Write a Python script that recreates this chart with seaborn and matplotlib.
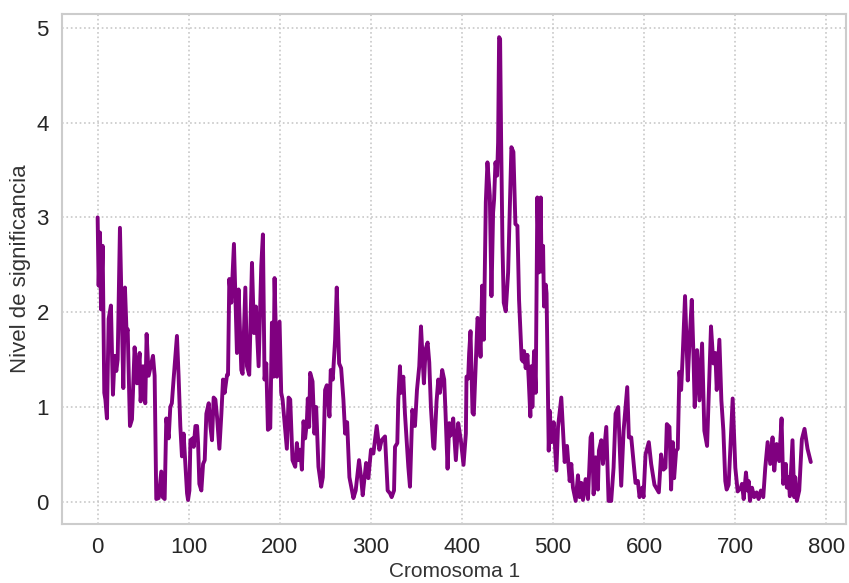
import matplotlib
matplotlib.use("Agg")
import matplotlib.pyplot as plt
import seaborn as sns
import numpy as np
import pandas as pd

# Positions along chromosome 1 and significance level
pos_a = [0, 1.1, 2.6, 3.7, 5.5, 7.3, 8.5, 10.2, 12.1, 14.6, 16.8, 18.7, 20.5, 22, 24.5, 28.2, 30, 31.8, 33, 35.5,
         37.7, 40.6, 43.2, 46.1, 47.2, 49.8, 52.3, 53.8, 56, 60.8, 62.6, 64.4, 67, 69.9, 71.5, 73.6, 75.4, 78, 79.8,
         81.5, 83.4, 87.1, 88.9, 90.8, 92.6, 94.4]
val_a = [3.0, 2.28, 2.84, 2.03, 2.7, 1.15, 1.08, 0.88, 1.93, 2.07, 1.13, 1.54, 1.38, 1.5, 2.89, 1.2, 2.26, 1.78, 1.82,
         0.8, 0.87, 1.63, 1.25, 1.57, 1.06, 1.43, 1.04, 1.77, 1.33, 1.54, 1.33, 0.03, 0.04, 0.32, 0.05, 0.03, 0.88,
         0.67, 1.0, 1.04, 1.29, 1.75, 1.33, 0.8, 0.48, 0.72]
pos_b = [98.2, 99.3, 100.8, 101.9, 104.4, 105.5, 107.4, 109.2, 110.3, 111.7, 113.9, 115.8, 117.6, 119.4, 122, 123.8,
         125.6, 127.4, 129.3, 131.1, 133.7, 135.9, 137.7, 139.5, 142.1, 143.2, 144.6, 146.8, 149.7, 153, 154.8, 157.8,
         159.2, 162.2, 164, 166.5, 169.5, 171.7, 173.8, 176.8, 179.7, 181.5, 183.3, 185.2, 187, 189.6, 191.4, 193.2,
         194.3, 196.9, 199.8, 201.6, 203.1, 204.9]
val_b = [0.09, 0.02, 0.12, 0.65, 0.67, 0.58, 0.8, 0.8, 0.62, 0.19, 0.12, 0.4, 0.44, 0.93, 1.04, 0.8, 0.65, 1.1, 1.08,
         0.9, 0.56, 0.93, 1.29, 1.15, 1.34, 1.34, 2.35, 2.1, 2.72, 1.57, 2.24, 1.39, 1.35, 2.26, 1.43, 1.34, 2.52,
         1.78, 2.06, 1.43, 2.49, 2.82, 1.29, 1.46, 0.76, 0.78, 1.89, 1.32, 2.36, 1.32, 1.9, 1.15, 1.08, 0.88]
pos_c = [207.8, 209.7, 211.5, 214, 217, 218.8, 220.6, 222.4, 224.3, 226.1, 227.9, 229.7, 230.8, 232.3, 233.4, 236,
         238.1, 240, 242.5, 245.5, 247.3, 249.8, 251.7, 254.6, 256, 258.2, 260.8, 262.6, 265.2, 267.4, 269.9, 271.8,
         274, 276.5, 280.9, 283.4, 287.1, 289.3, 291.1, 294.8, 297.3, 300.2, 302.8, 306.5, 309.4, 311.9, 315.6]
val_c = [0.56, 1.1, 1.08, 0.44, 0.37, 0.62, 0.44, 0.55, 0.34, 0.85, 0.67, 0.83, 1.09, 0.79, 1.36, 1.27, 0.72, 1.0,
         0.37, 0.16, 0.26, 1.18, 1.23, 0.9, 1.39, 1.29, 1.71, 2.26, 1.46, 1.41, 1.08, 0.72, 0.84, 0.26, 0.04, 0.12,
         0.44, 0.26, 0.07, 0.41, 0.25, 0.55, 0.51, 0.8, 0.55, 0.65, 0.69]
pos_d = [318.5, 321.1, 322.9, 325.5, 326.6, 329.1, 330.2, 332, 333.1, 335.7, 337.5, 341.2, 343, 345.6, 348.5, 350.7,
         353.2, 355.1, 358.3, 360.2, 362.4, 364.2, 366, 368.6, 369.7, 372.2, 374.1, 375.9, 378.4, 380.6, 382.1, 384.3,
         386.1, 387.6, 390.5, 393.4, 396, 398.9, 401.8, 404.4]
val_d = [0.12, 0.09, 0.05, 0.12, 0.58, 0.62, 1.08, 1.43, 1.15, 1.32, 0.93, 0.37, 0.16, 0.97, 0.8, 1.18, 1.43, 1.85,
         1.25, 1.61, 1.68, 1.47, 1.0, 0.58, 0.56, 1.06, 1.29, 1.15, 1.39, 1.29, 0.93, 0.35, 0.83, 0.7, 0.88, 0.44,
         0.83, 0.65, 0.39, 0.72]
pos_e = [405.1, 406.9, 408, 409.5, 410.6, 411.7, 413.1, 415, 417.2, 419, 420.5, 422.3, 424.1, 426.3, 428.1, 430.7,
         432.5, 434.3, 435.4, 436.9, 438.7, 439.8, 440.9, 442, 443.1, 444.6, 446, 448.2, 450.8, 454.4, 456.6, 458.8,
         461, 462.8, 465.7, 467.2, 468.3, 470.1, 472, 473.4, 475.2, 476.3, 477.4, 479.3, 481.1, 482.9, 484.7]
val_e = [1.32, 1.3, 1.57, 1.8, 1.35, 0.94, 0.92, 1.39, 1.94, 1.87, 1.53, 2.28, 1.71, 3.16, 3.58, 3.23, 2.17, 3.05,
         3.19, 3.58, 3.44, 3.79, 4.9, 4.88, 3.83, 2.7, 2.1, 2.01, 2.42, 3.74, 3.69, 2.93, 2.91, 2.13, 1.5, 1.48, 1.59,
         1.41, 1.55, 1.29, 0.9, 1.43, 1.0, 1.59, 1.15, 3.21, 2.42]
pos_f = [486.6, 487.5, 489.2, 490.2, 492.1, 493, 495.4, 496.5, 498.3, 500.8, 503.8, 505.6, 509.2, 512.9, 515.5, 518.4,
         520.2, 522, 525, 527.5, 529.3, 531.2, 533, 535.9, 538.5, 541.4, 542.9, 544.7, 546.9, 549.4, 550.5, 553.1,
         554.9, 558.6, 561.1, 564, 566.6, 568.8, 571.7, 575, 577.6, 581.6, 583.4, 586, 590.7, 593.3, 595.1, 598, 599.5]
val_f = [3.21, 2.43, 2.7, 2.06, 2.29, 2.2, 0.54, 0.96, 0.63, 0.84, 0.33, 0.79, 1.1, 0.42, 0.59, 0.22, 0.4, 0.15, 0.01,
         0.28, 0.05, 0.2, 0.02, 0.24, 0.03, 0.68, 0.72, 0.08, 0.47, 0.13, 0.54, 0.65, 0.4, 0.79, 0.01, 0.01, 0.36,
         0.93, 1.0, 0.17, 0.75, 1.21, 0.68, 0.68, 0.2, 0.22, 0.05, 0.15, 0.05]
pos_g = [601.7, 605.3, 607.9, 611.5, 616.3, 618.8, 621.4, 623.6, 625.1, 628, 629.8, 631.6, 633.1, 635.3, 637.1, 638.9,
         640.8, 642.6, 645.1, 648.1, 649.9, 652.5, 654.3, 655.7, 658.3, 660.9, 663.8, 666.3, 669.3, 673.6, 676.2,
         678.4, 679.9, 682.8, 685, 687.2, 689.3, 690.8, 693, 697.4, 700.3, 702.9, 706.5]
val_g = [0.5, 0.63, 0.4, 0.18, 0.1, 0.5, 0.34, 0.36, 0.82, 0.79, 0.13, 0.63, 0.25, 0.54, 0.56, 1.37, 1.18, 1.56, 2.17,
         1.28, 1.67, 2.13, 1.56, 1.0, 1.6, 1.07, 1.67, 0.75, 0.59, 1.85, 1.46, 1.57, 1.18, 1.71, 1.07, 0.75, 0.22,
         0.13, 0.18, 1.09, 0.36, 0.11, 0.15]
pos_h = [707.6, 709.5, 712, 713.8, 714.9, 716.4, 718.6, 721.1, 723.7, 725.9, 728.4, 731, 733.2, 735.8, 738.7, 741.2,
         743.1, 745.6, 748.5, 751.1, 752.9, 755.8, 756.9, 758.8, 760.2, 763.1, 765, 766.1, 767.9, 770.5, 773.4, 776.3,
         779.6, 783.2]
val_h = [0.19, 0.03, 0.31, 0.12, 0.22, 0.01, 0.15, 0.05, 0.1, 0.03, 0.12, 0.05, 0.36, 0.63, 0.4, 0.68, 0.33, 0.61,
         0.43, 0.88, 0.19, 0.4, 0.15, 0.26, 0.06, 0.65, 0.05, 0.26, 0.01, 0.12, 0.66, 0.77, 0.56, 0.42]

x_label = "Cromosoma 1"
y_label = "Nivel de significancia"
x_ticks = [0, 100, 200, 300, 400, 500, 600, 700, 800]
y_ticks = [0, 1, 2, 3, 4, 5]

positions = pos_a + pos_b + pos_c + pos_d + pos_e + pos_f + pos_g + pos_h
values = val_a + val_b + val_c + val_d + val_e + val_f + val_g + val_h
df = pd.DataFrame({"pos": positions, "val": values})

sns.set_theme(style="whitegrid")
plt.rcParams["font.family"] = ["Liberation Sans", "DejaVu Sans"]
plt.rcParams["grid.linestyle"] = ":"
plt.rcParams["grid.color"] = "#c8c8c8"
plt.rcParams["grid.linewidth"] = 1.2

fig, ax = plt.subplots(figsize=(8.49, 5.83), dpi=100)
fig.subplots_adjust(left=0.073, right=0.997, top=0.976, bottom=0.101)
sns.lineplot(data=df, x="pos", y="val", color="purple", linewidth=2.8, ax=ax, sort=False)
ax.set_xticks(x_ticks)
ax.set_yticks(y_ticks)
ax.set_xlabel(x_label, fontsize=15, color="#333333", labelpad=3)
ax.set_ylabel(y_label, fontsize=16, color="#333333")
ax.tick_params(labelsize=16, labelcolor="#262626")
for s in ax.spines.values():
    s.set_color("#cccccc")
    s.set_linewidth(1.5)
fig.savefig("out.png", dpi=100)
